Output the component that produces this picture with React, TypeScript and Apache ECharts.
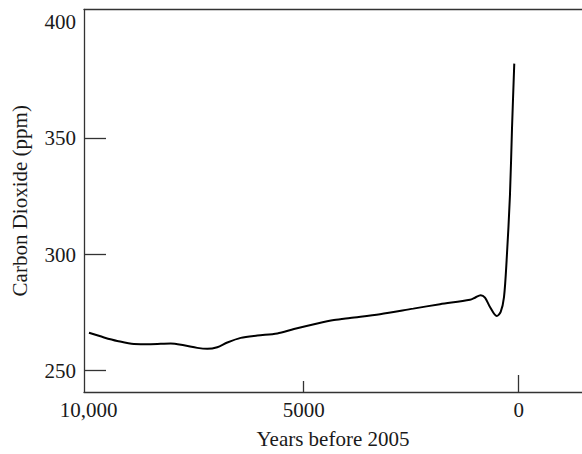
import React, { useEffect, useRef } from "react";
import * as echarts from "echarts";

// Years before 2005
const years = [
  9992, 9643, 9334, 8946, 8557, 8092, 7783, 7474, 7241, 7009, 6776, 6464, 6078,
  5613, 5225, 4683, 4295, 3923, 3225, 2450, 1830, 1132, 1016, 883, 783, 667,
  511, 418, 341, 280, 202, 155, 102,
];
// Carbon dioxide (ppm)
const co2 = [
  266.3, 264.3, 262.8, 261.5, 261.4, 261.7, 260.9, 259.8, 259.4, 260.1, 262.1,
  264.1, 265.1, 266.0, 267.9, 270.3, 271.8, 272.7, 274.3, 276.7, 278.6, 280.5,
  281.4, 282.5, 281.4, 277.4, 273.5, 275.3, 281.7, 297.5, 325.7, 354.2, 382.2,
];
const xLabelValues = [0, 5000, 10000];
const xMinorTick = [5000];
const xMajorTick = [0];
const yLabelValues = [250, 300, 350, 400];
const yTickValues = [250, 300, 350];

const FONT = "'Liberation Serif', 'Times New Roman', serif";
const AXIS_COLOR = "#333";
const TEXT_COLOR = "#1a1a1a";
const FS = 21;

export default function App() {
  const ref = useRef<HTMLDivElement>(null);
  useEffect(() => {
    if (!ref.current) return;
    const chart = echarts.init(ref.current, null, { renderer: "svg" });
    const xMin = -1473;
    const xMax = 10108;
    chart.setOption({
      animation: false,
      backgroundColor: "#fff",
      textStyle: { fontFamily: FONT },
      grid: { left: 84, right: 0, top: 9.5, bottom: 58, containLabel: false },
      xAxis: [
        {
          type: "value",
          position: "bottom",
          inverse: true,
          min: xMin,
          max: xMax,
          name: "Years before 2005",
          nameLocation: "middle",
          nameGap: 36,
          nameTextStyle: { fontFamily: FONT, fontSize: FS, color: TEXT_COLOR },
          axisLine: { show: true, onZero: false, lineStyle: { color: AXIS_COLOR, width: 1.3 } },
          axisTick: {
            show: true,
            inside: true,
            length: 11,
            customValues: xMinorTick,
            lineStyle: { color: AXIS_COLOR, width: 1.3 },
          },
          axisLabel: {
            customValues: xLabelValues,
            margin: 7,
            fontFamily: FONT,
            fontSize: FS,
            color: TEXT_COLOR,
            formatter: (v: number) => (v === 10000 ? "10,000" : String(v)),
          },
          splitLine: { show: false },
        },
        {
          type: "value",
          position: "bottom",
          offset: 0,
          inverse: true,
          min: xMin,
          max: xMax,
          axisLine: { show: false, onZero: false },
          axisTick: {
            show: true,
            inside: true,
            length: 17,
            customValues: xMajorTick,
            lineStyle: { color: AXIS_COLOR, width: 1.3 },
          },
          axisLabel: { show: false },
          splitLine: { show: false },
        },
        {
          type: "value",
          position: "top",
          inverse: true,
          min: xMin,
          max: xMax,
          axisLine: { show: true, onZero: false, lineStyle: { color: AXIS_COLOR, width: 1.3 } },
          axisTick: { show: false },
          axisLabel: { show: false },
          splitLine: { show: false },
        },
      ],
      yAxis: {
        type: "value",
        min: 240.8,
        max: 405.5,
        name: "Carbon Dioxide (ppm)",
        nameLocation: "middle",
        nameGap: 54,
        nameTextStyle: { fontFamily: FONT, fontSize: FS, color: TEXT_COLOR },
        axisLine: { show: true, onZero: false, lineStyle: { color: AXIS_COLOR, width: 1.3 } },
        axisTick: {
          show: true,
          inside: true,
          length: 22,
          customValues: yTickValues,
          lineStyle: { color: AXIS_COLOR, width: 1.3 },
        },
        axisLabel: {
          customValues: yLabelValues,
          margin: 8,
          fontFamily: FONT,
          fontSize: FS,
          color: TEXT_COLOR,
        },
        splitLine: { show: false },
      },
      series: [
        {
          type: "line",
          xAxisIndex: 0,
          yAxisIndex: 0,
          data: years.map((y, i) => [y, co2[i]]),
          smooth: 0.3,
          showSymbol: false,
          symbol: "none",
          lineStyle: { color: "#000", width: 2 },
        },
      ],
    });
    return () => chart.dispose();
  }, []);
  return (
    <div
      ref={ref}
      style={{ position: "fixed", left: 0, top: 0, width: 582, height: 454, background: "#fff" }}
    />
  );
}
